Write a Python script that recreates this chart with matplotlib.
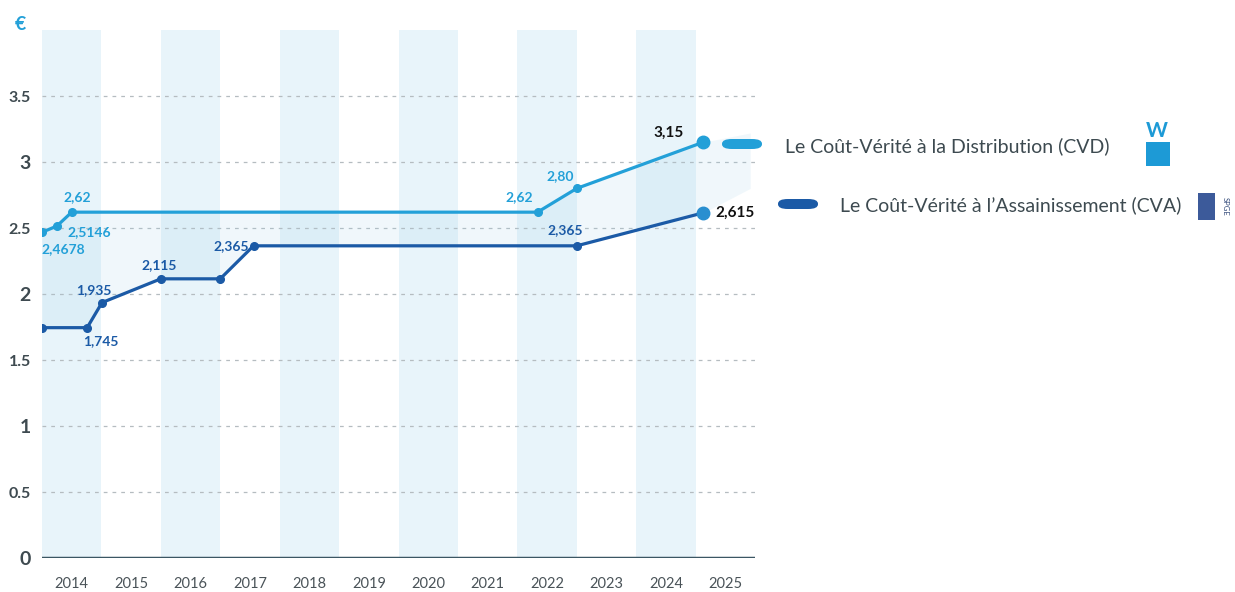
import matplotlib.pyplot as plt
from matplotlib.patches import FancyBboxPatch, Rectangle

plt.rcParams['font.family'] = ['Lato', 'DejaVu Sans']

# years shown on the axis
years = list(range(2014, 2026))
shaded_years = [2014, 2016, 2018, 2020, 2022, 2024]

# Coût-Vérité à la Distribution (CVD): x in fractional years
cvd_x = [2013.5, 2013.75, 2014.0, 2021.84, 2022.5, 2024.63]
cvd_y = [2.4678, 2.5146, 2.62, 2.62, 2.80, 3.15]
cvd_labels = ["2,4678", "2,5146", "2,62", "2,62", "2,80", "3,15"]

# Coût-Vérité à l'Assainissement (CVA)
cva_x = [2013.5, 2014.26, 2014.51, 2015.5, 2016.5, 2017.06, 2022.5, 2024.63]
cva_y = [1.745, 1.745, 1.935, 2.115, 2.115, 2.365, 2.365, 2.615]
cva_labels = [None, "1,745", "1,935", "2,115", None, "2,365", "2,365", "2,615"]

yticks = [0, 0.5, 1, 1.5, 2, 2.5, 3, 3.5]
ytick_labels = ["0", "0.5", "1", "1.5", "2", "2.5", "3", "3.5"]

c_cvd = "#23a0d8"
c_cva = "#1b5aa6"
c_band = "#e8f4fa"
c_axis = "#3b5663"

fig = plt.figure(figsize=(12.35, 5.92), dpi=100)
ax = fig.add_axes([42/1235, 34/592, 713/1235, 528/592])
ax.set_xlim(2013.5, 2025.5)
ax.set_ylim(0, 4)

for yr in shaded_years:
    ax.axvspan(yr - 0.5, yr + 0.5, color=c_band, zorder=0, lw=0)

for yv in yticks[1:]:
    ax.axhline(yv, color="#b5bcc0", ls=(0, (3, 4)), lw=0.9, zorder=1)
ax.axhline(0, color=c_axis, lw=2.5, zorder=3)

# light fill between the two series, stretched toward the legend
fill_x = [2013.5, 2013.75, 2014.0, 2014.26, 2014.51, 2015.5, 2016.5, 2017.06,
          2021.84, 2022.5, 2024.63, 2025.42]
fill_top = [2.4678, 2.5146, 2.62, 2.62, 2.62, 2.62, 2.62, 2.62, 2.62, 2.80, 3.15, 3.22]
fill_bot = [1.745, 1.745, 1.745, 1.745, 1.935, 2.115, 2.115, 2.365, 2.365, 2.365, 2.615, 2.80]
ax.fill_between(fill_x, fill_bot, fill_top, color="#9ccfe6", alpha=0.15, lw=0, zorder=1)

ax.plot(cvd_x[:-1], cvd_y[:-1], color=c_cvd, lw=2.3, marker="o", ms=5.5, zorder=4)
ax.plot(cvd_x[-2:], cvd_y[-2:], color=c_cvd, lw=2.3, zorder=4)
ax.plot(cvd_x[-1], cvd_y[-1], "o", color=c_cvd, ms=9, zorder=5)
ax.plot(cva_x[:-1], cva_y[:-1], color=c_cva, lw=2.3, marker="o", ms=5.5, zorder=4)
ax.plot(cva_x[-2:], cva_y[-2:], color=c_cva, lw=2.3, zorder=4)
ax.plot(cva_x[-1], cva_y[-1], "o", color="#2a8fd0", ms=9, zorder=5)

# label offsets in points (dx, dy)
cvd_off = [(15, -12), (23, -4), (4, 11), (-13, 11), (-12, 9), (-25, 7)]
cva_off = [None, (10, -10), (-6, 9), (-1, 10), None, (-16, 0), (-8, 11), (23, 0)]

for i, lab in enumerate(cvd_labels):
    last = i == len(cvd_labels) - 1
    ax.annotate(lab, (cvd_x[i], cvd_y[i]), xytext=cvd_off[i], textcoords="offset points",
                ha="center", va="center", fontsize=11 if last else 10,
                fontweight="bold", color="#111111" if last else c_cvd, zorder=6)
for i, lab in enumerate(cva_labels):
    if lab is None:
        continue
    last = i == len(cva_labels) - 1
    ax.annotate(lab, (cva_x[i], cva_y[i]), xytext=cva_off[i], textcoords="offset points",
                ha="center", va="center", fontsize=11 if last else 10,
                fontweight="bold", color="#111111" if last else c_cva, zorder=6)

ax.set_xticks(years)
ax.set_xticklabels([str(y) for y in years], fontsize=10.5, color="#4a5358")
ax.set_yticks(yticks)
ax.set_yticklabels(ytick_labels, color="#3e4a50", fontweight="bold")
for t, v in zip(ax.get_yticklabels(), yticks):
    t.set_fontsize(14 if float(v).is_integer() else 11.5)
ax.tick_params(length=0, pad=8)
ax.tick_params(axis="x", pad=14)
for s in ax.spines.values():
    s.set_visible(False)

fig.text(20/1235, 1 - 25/592, "€", color=c_cvd, fontsize=14, fontweight="bold",
         ha="center", va="center")

# legend
for (x0, x1, yy, col) in [(722, 762, 144, c_cvd), (778, 818, 204, c_cva)]:
    fig.add_artist(FancyBboxPatch((x0/1235, 1 - (yy + 5)/592), (x1 - x0)/1235, 10/592,
                                  boxstyle="round,pad=0,rounding_size=0.008",
                                  fc=col, ec="none", transform=fig.transFigure))
fig.text(785/1235, 1 - 146/592, "Le Coût-Vérité à la Distribution (CVD)",
         fontsize=14, color="#3d4a50", va="center")
fig.text(840/1235, 1 - 205/592, "Le Coût-Vérité à l’Assainissement (CVA)",
         fontsize=14, color="#3d4a50", va="center")

# logo stand-ins
fig.text(1157/1235, 1 - 131/592, "W", fontsize=15, fontweight="bold", color="#1d9ad6",
         ha="center", va="center")
fig.add_artist(Rectangle((1146/1235, 1 - 166/592), 24/1235, 24/592, fc="#1d9ad6",
                         ec="none", transform=fig.transFigure))
fig.add_artist(Rectangle((1198/1235, 1 - 220/592), 17/1235, 27/592, fc="#3c5a9a",
                         ec="none", transform=fig.transFigure))
fig.text(1225/1235, 1 - 206/592, "SPGE", fontsize=5.5, color="#334a7a", rotation=270,
         ha="center", va="center")

fig.savefig("out.png", dpi=100, facecolor="white")
